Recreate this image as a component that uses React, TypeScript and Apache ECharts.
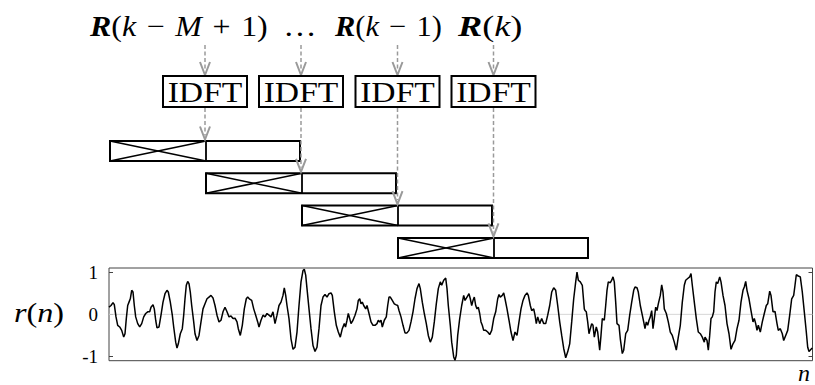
import React, { useEffect, useRef } from "react";
import * as echarts from "echarts";

// ---- data ----
const yTickValues = [-1, 0, 1];
const zeroLevel = 0;
const sampleRange = [0, 703.5];
const blockText = "IDFT";
const yAxisTitle = "{i|r}({i|n})";
const xAxisTitle = "n";
const frameLabels = [
  "{b|R}({i|k}\u2004−\u2004{i|M}\u2004+\u20041)",
  "…",
  "{b|R}({i|k}\u2004−\u20041)",
  "{b|R}({i|k})",
];

// signal r(n): [n, value]
const signalSamples: number[][] = [
  [0,0.17],[2,0.21],[4,0.28],[5.3,0.23],[7,-0.06],[8.7,-0.26],[10.7,-0.30],[12.7,-0.38],[14.7,-0.54],[16,-0.46],
  [17.3,-0.10],[18.7,0.21],[20,0.29],[21.3,0.37],[22.7,0.57],[24,0.53],[25.3,0.21],[26.7,-0.06],[28.7,-0.22],[30.7,-0.30],
  [32.7,-0.22],[34.7,-0.06],[36.7,0.02],[38.7,0.06],[40.7,0.06],[42,0.17],[44,0.23],[45.3,0.13],[46.7,-0.14],[48,-0.32],
  [50,-0.30],[52,-0.02],[54,0.29],[56,0.49],[58,0.57],[59.3,0.53],[61.3,0.29],[63.3,-0.02],[64.7,-0.30],[66.7,-0.66],
  [68,-0.80],[69.3,-0.70],[71.3,-0.46],[73.3,-0.34],[74.7,-0.02],[76,0.37],[77.3,0.69],[78.7,0.78],[80,0.73],[81.3,0.53],
  [82.7,0.21],[84.7,-0.18],[86,-0.46],[88,-0.62],[90,-0.50],[92,-0.18],[94,0.13],[96,0.25],[98,0.37],[100,0.41],
  [102,0.45],[104,0.39],[106,0.21],[108,-0.02],[110,-0.18],[112,-0.14],[114,0.06],
  [116,0.17],[118,0.06],[120,-0.06],[122,-0.04],[124,-0.10],[126,-0.09],[128,-0.18],[129.3,-0.34],[131.3,-0.50],[133.3,-0.26],
  [135.3,0.13],[137.3,0.37],[138.7,0.41],[140.7,0.36],[142.7,0.33],[144.7,0.13],[146.7,-0.02],[148.7,-0.18],[150,-0.30],[152,-0.14],
  [154,-0.02],[156,-0.06],[158,0.02],[160,-0.02],[162,-0.06],[164,0.06],[166,-0.22],[168,-0.02],[170,0.21],[172,0.29],
  [174,0.45],[175.3,0.63],[176.7,0.45],[178,0.21],[180,-0.10],[182,-0.58],[184,-0.83],[186,-0.78],[188,-0.42],[190,0.21],
  [192,0.77],[194,1.04],[195.3,1.07],[196.7,0.93],[198,0.61],[200,0.13],[202,-0.34],[204,-0.74],[206,-0.88],[208,-0.78],
  [210,-0.34],[212,0.21],[214,0.41],[216,0.47],[218,0.41],[220,0.49],[222,0.51],[223.3,0.45],[225.3,0.06],[227.3,-0.26],
  [229.3,-0.42],[231.3,-0.54],[233.3,-0.34],[235.3,-0.22],
  [236.5,-0.30],[238,-0.14],[239.3,0.02],[240.7,-0.10],[242,-0.22],[244,-0.14],[246,-0.02],[248,0.13],[249.3,0.33],[250.7,0.37],
  [252,0.25],[253.3,0.29],[254.7,0.21],[256.7,0.13],[258,0.21],[260,0.02],[262,-0.18],[264,-0.26],[266,-0.26],[268,-0.22],
  [269.3,-0.14],[270.7,-0.18],[272,-0.14],[273.3,-0.30],[275.3,-0.14],[277.3,-0.06],[278.7,0.21],[280,0.41],[281.3,0.41],[283.3,0.33],
  [285.3,0.25],[286.7,0.23],[288.7,0.21],[290,0.09],[292,-0.06],[294,-0.26],[296,-0.44],[298,-0.44],[300,-0.38],[302,-0.18],
  [304,0.06],[306,0.37],[308,0.61],[310,0.73],[311.3,0.61],[313.3,0.29],[315.3,0.02],[317.3,-0.22],[319.3,-0.50],[321.3,-0.66],
  [323.3,-0.54],[325.3,-0.18],[327.3,0.25],[329.3,0.61],[331.3,0.77],[332.7,0.69],[334.7,0.81],[336.7,0.86],[338,0.61],[339.3,0.21],
  [341.3,-0.26],[342.7,-0.66],[344.7,-1.01],[346,-1.09],[347.3,-0.97],[348.7,-0.50],[350.7,-0.10],[352.7,0.21],[354.7,0.45],
  [356,0.33],[358,0.41],[360,0.49],[361.3,0.37],[362.7,0.21],[364,0.33],[365.3,0.41],[366.7,0.21],[368,0.13],[369.3,0.17],
  [370.7,0.02],[372,-0.18],[373.3,-0.26],[374.7,-0.38],[376.7,-0.38],[378.7,-0.42],[380.7,-0.48],[382.7,-0.38],[384.7,-0.10],[386.7,0.06],
  [388.7,0.37],[390,0.47],[391.3,0.41],[393.3,0.45],[394.7,0.51],[396,0.37],[398,0.13],[400,-0.14],[402,-0.42],[404,-0.62],
  [406,-0.42],[408,-0.50],[410,-0.18],[412,0.13],[414,0.33],[416,0.45],[418,0.51],[419.3,0.45],[421.3,0.21],[422.7,0.09],
  [424.7,0.13],[426,-0.02],[427.3,-0.22],[428.7,-0.06],[430.7,-0.22],[432.7,-0.10],[434.7,-0.22],[436.7,-0.22],[438.7,-0.02],[440.7,0.21],
  [442.7,0.53],[444.7,0.63],[446.7,0.57],[448.7,0.21],[450.7,-0.18],[452.7,-0.50],[454.7,-0.81],[456.7,-1.03],[458.7,-0.89],[460.7,-0.70],
  [462.7,-0.18],[464.7,0.37],[466.7,0.77],[468,1.00],[469.3,0.81],[471.3,0.77],[473.3,0.69],[475.3,0.13],
  [476,0.09],[477.3,0.06],[478.7,-0.18],[480,-0.46],[481.3,-0.34],[482.7,-0.22],[484,-0.26],[485.3,-0.54],[487.3,-0.30],[488.7,-0.42],
  [490.7,-0.85],[492,-0.50],[493.3,-0.10],[495.3,-0.14],[496.7,0.21],[498,0.57],[499.3,0.77],[501.3,0.75],[502.7,0.81],[504,0.89],
  [505.3,0.77],[506.7,0.29],[508,-0.22],[510,-0.26],[511.3,-0.58],[513.3,-0.93],[514.7,-0.85],[516.7,-0.46],[518.7,-0.38],[520.7,-0.02],
  [522.7,0.29],[524.7,0.57],[526,0.65],[528,0.63],[529.3,0.53],[531.3,0.21],[533.3,-0.02],[534.7,-0.18],[536,-0.34],[537.3,-0.18],
  [538.7,-0.26],[540,-0.14],[541.3,-0.06],[542.7,0.09],[544,-0.34],[545.3,-0.10],[546.7,0.17],[548,0.09],[549.3,0.25],[551.3,0.45],
  [552.7,0.70],[554,0.53],[555.3,0.13],[557.3,0.02],[559.3,-0.18],[561.3,-0.42],[563.3,-0.50],[565.3,-0.66],[567.3,-0.85],[569.3,-0.54],
  [571.3,-0.26],[573.3,0.29],[575.3,0.69],[576.7,0.81],[578.7,0.85],[580.7,0.89],[582,0.97],[583.3,0.69],[585.3,0.29],[587.3,-0.10],
  [589.3,-0.42],[591.3,-0.46],[593.3,-0.54],[595.3,-0.66],
  [596,-0.54],[598,-0.62],[599.3,-0.85],[600.7,-0.50],[602,-0.10],[603.3,-0.06],[604.7,0.06],[606,0.53],[607.3,0.77],[608.7,0.73],
  [610.7,0.89],[612,0.77],[614,0.45],[616,0.21],[618,-0.22],[620,-0.46],[622,-0.83],[624,-0.70],[626,-0.62],[628,-0.34],
  [630,-0.14],[632,0.29],[634,0.57],[635.3,0.65],[636.7,0.78],[638,0.57],[640,0.37],[642,0.09],[644,-0.18],[645.3,-0.10],
  [646.7,-0.22],[648,-0.38],[649.3,-0.26],[651.3,-0.42],[653.3,-0.18],[655.3,0.02],[657.3,0.21],[658.7,0.25],[660.7,0.55],[662,0.45],
  [664,0.06],[666,0.07],[668,-0.22],[669.3,-0.38],[671.3,-0.34],[673.3,-0.46],[674.7,-0.62],[676.7,-0.50],[678.7,-0.38],[680.7,-0.02],
  [682.7,0.37],[684.7,0.45],[686,0.69],[687.3,0.94],[689.3,0.91],[691.3,0.89],[693.3,0.53],[695.3,0.06],[697.3,-0.42],[698.7,-0.78],
  [700,-0.88],[702,-0.83],[703.3,-0.80],
];

// ---- layout / style ----
const SERIF = "Liberation Serif, DejaVu Serif, serif";
const GRAY = "#9a9a9a";
const frameLabelPos = [
  { x: 90, align: "left", scaleX: 1.1 },
  { x: 300, align: "center", scaleX: 1.15 },
  { x: 335, align: "left", scaleX: 1.05 },
  { x: 458, align: "left", scaleX: 1.25 },
];
const blockCenters = [205, 301, 397.5, 493.5];
const BLOCK_W = 84;
const BLOCK_TOP = 76;
const BLOCK_H = 31;
const WIN_LEFT0 = 110;
const WIN_STEP_X = 96;
const WIN_TOP0 = 141;
const WIN_STEP_Y = 32.3;
const WIN_W = 190;
const WIN_H = 20;

function richStyles(size: number) {
  return {
    b: { fontFamily: SERIF, fontSize: size, fontWeight: "bold", fontStyle: "italic", fill: "#000" },
    i: { fontFamily: SERIF, fontSize: size, fontStyle: "italic", fill: "#000" },
  };
}

function arrow(x: number, y1: number, tip: number) {
  return [
    {
      type: "line",
      silent: true,
      shape: { x1: x, y1, x2: x, y2: tip - 4 },
      style: { stroke: GRAY, lineWidth: 1.5, lineDash: [4, 2.5] },
    },
    {
      type: "polyline",
      silent: true,
      shape: { points: [[x - 5, tip - 13], [x, tip], [x + 5, tip - 13]] },
      style: { stroke: GRAY, lineWidth: 2, fill: null },
    },
  ];
}

function buildGraphic() {
  const els: any[] = [];
  frameLabels.forEach((t, i) => {
    const p = frameLabelPos[i];
    els.push({
      type: "text",
      silent: true,
      x: p.x,
      y: 26,
      scaleX: p.scaleX,
      style: {
        text: t,
        fontFamily: SERIF,
        fontSize: 29,
        fill: "#000",
        align: p.align,
        textAlign: p.align,
        verticalAlign: "middle",
        textVerticalAlign: "middle",
        rich: richStyles(29),
      },
    });
  });
  blockCenters.forEach((cx, i) => {
    els.push(...arrow(cx, 45, 75));
    els.push({
      type: "rect",
      silent: true,
      shape: { x: cx - BLOCK_W / 2, y: BLOCK_TOP, width: BLOCK_W, height: BLOCK_H },
      style: { fill: "#fff", stroke: "#000", lineWidth: 2 },
    });
    els.push({
      type: "text",
      silent: true,
      x: cx,
      y: BLOCK_TOP + BLOCK_H / 2 + 0.5,
      scaleX: 1.12,
      style: {
        text: blockText,
        fontFamily: SERIF,
        fontSize: 30,
        fill: "#000",
        align: "center",
        textAlign: "center",
        verticalAlign: "middle",
        textVerticalAlign: "middle",
      },
    });
    const wl = WIN_LEFT0 + WIN_STEP_X * i;
    const wt = WIN_TOP0 + WIN_STEP_Y * i;
    const half = WIN_STEP_X;
    els.push({
      type: "rect",
      silent: true,
      shape: { x: wl, y: wt, width: WIN_W, height: WIN_H },
      style: { fill: "#fff", stroke: "#000", lineWidth: 2 },
    });
    els.push({
      type: "line",
      silent: true,
      shape: { x1: wl + half, y1: wt, x2: wl + half, y2: wt + WIN_H },
      style: { stroke: "#000", lineWidth: 1.8 },
    });
    els.push({
      type: "line",
      silent: true,
      shape: { x1: wl, y1: wt, x2: wl + half, y2: wt + WIN_H },
      style: { stroke: "#000", lineWidth: 1.5 },
    });
    els.push({
      type: "line",
      silent: true,
      shape: { x1: wl, y1: wt + WIN_H, x2: wl + half, y2: wt },
      style: { stroke: "#000", lineWidth: 1.5 },
    });
    els.push(...arrow(cx, BLOCK_TOP + BLOCK_H + 1, wt - 1.5));
  });
  els.push({
    type: "text",
    silent: true,
    x: 39,
    y: 313,
    scaleX: 1.15,
    style: {
      text: yAxisTitle,
      fontFamily: SERIF,
      fontSize: 28,
      fill: "#000",
      align: "center",
      textAlign: "center",
      verticalAlign: "middle",
      textVerticalAlign: "middle",
      rich: richStyles(28),
    },
  });
  els.push({
    type: "text",
    silent: true,
    x: 798,
    y: 373,
    style: {
      text: xAxisTitle,
      fontFamily: SERIF,
      fontSize: 24,
      fontStyle: "italic",
      fill: "#000",
      align: "left",
      textAlign: "left",
      verticalAlign: "middle",
      textVerticalAlign: "middle",
    },
  });
  return els;
}

export default function App() {
  const ref = useRef<HTMLDivElement>(null);
  useEffect(() => {
    if (!ref.current) return;
    const chart = echarts.init(ref.current, undefined, { renderer: "svg" });
    const tick = {
      show: true,
      inside: true,
      length: 4,
      customValues: yTickValues,
      lineStyle: { color: "#444", width: 1 },
    };
    chart.setOption({
      animation: false,
      backgroundColor: "#fff",
      grid: {
        left: 109,
        right: 2.5,
        top: 268,
        bottom: 24.3,
        show: true,
        borderColor: "#444",
        borderWidth: 1,
      },
      xAxis: {
        type: "value",
        min: sampleRange[0],
        max: sampleRange[1],
        show: false,
      },
      yAxis: [
        {
          type: "value",
          min: -1.1,
          max: 1.1,
          position: "left",
          axisLine: { show: false },
          splitLine: { show: false },
          axisTick: tick,
          axisLabel: {
            customValues: yTickValues,
            fontFamily: SERIF,
            fontSize: 19,
            color: "#000",
            margin: 11,
            formatter: (v: number) => String(v),
          },
        },
        {
          type: "value",
          min: -1.1,
          max: 1.1,
          position: "right",
          axisLine: { show: false },
          splitLine: { show: false },
          axisTick: tick,
          axisLabel: { show: false },
        },
      ],
      series: [
        {
          type: "line",
          silent: true,
          z: 1,
          symbol: "none",
          data: [
            [sampleRange[0], zeroLevel],
            [sampleRange[1], zeroLevel],
          ],
          lineStyle: { color: "#d6d6d6", width: 1 },
        },
        {
          type: "line",
          silent: true,
          z: 2,
          symbol: "none",
          data: signalSamples,
          lineStyle: { color: "#000", width: 1.5 },
        },
      ],
      graphic: buildGraphic(),
    });
    return () => chart.dispose();
  }, []);
  return (
    <div
      ref={ref}
      style={{ position: "absolute", left: 0, top: 0, width: 815, height: 385 }}
    />
  );
}
